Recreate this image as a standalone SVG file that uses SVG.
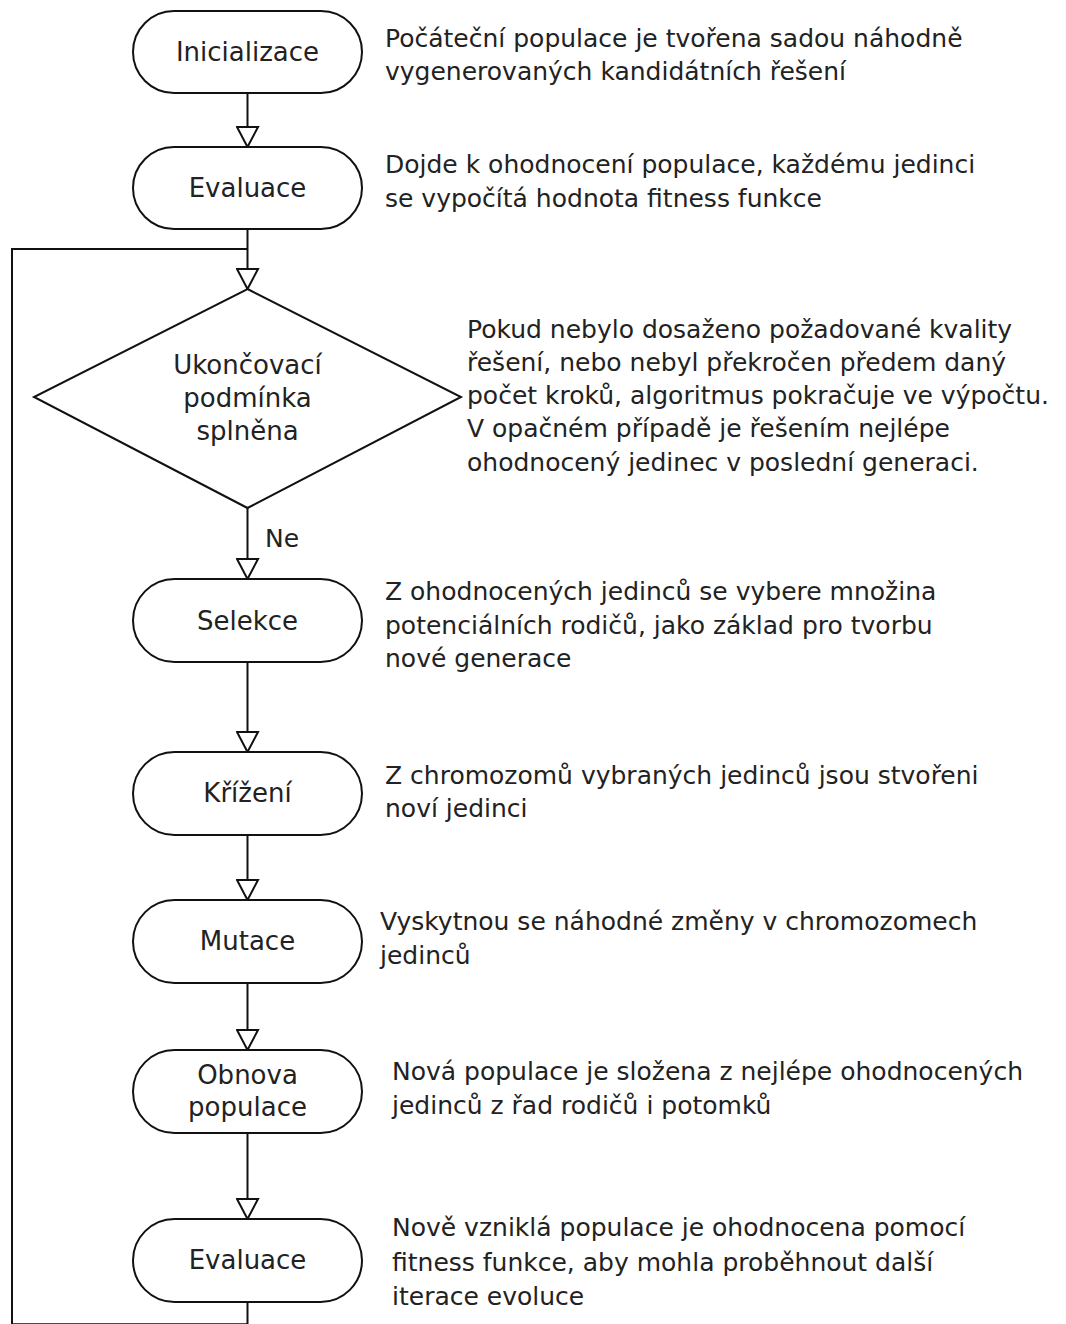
<svg xmlns="http://www.w3.org/2000/svg" width="1066" height="1324" viewBox="0 0 1066 1324">
<style>
.n{fill:#fff;stroke:#111;stroke-width:2}
.c{fill:none;stroke:#111;stroke-width:2}
.t{font-family:"DejaVu Sans",sans-serif;font-size:25px;fill:#222}
.m{text-anchor:middle;font-size:26px}
</style>
<defs>
<marker id="arr" viewBox="-2 -12 24 24" refX="20" refY="0" markerWidth="24" markerHeight="24" markerUnits="userSpaceOnUse" orient="auto">
<path d="M0,-10.5 L20,0 L0,10.5 Z" fill="#fff" stroke="#111" stroke-width="2"/>
</marker>
</defs>
<rect width="1066" height="1324" fill="#fff"/>
<g id="connectors">
<line class="c" x1="247.5" y1="93" x2="247.5" y2="147" marker-end="url(#arr)"/>
<line class="c" x1="247.5" y1="229" x2="247.5" y2="289" marker-end="url(#arr)"/>
<path class="c" d="M247.5,1302 V1324.3 H12 V249 H247.5"/>
<line class="c" x1="247.5" y1="508" x2="247.5" y2="579" marker-end="url(#arr)"/>
<line class="c" x1="247.5" y1="662" x2="247.5" y2="752" marker-end="url(#arr)"/>
<line class="c" x1="247.5" y1="835" x2="247.5" y2="900" marker-end="url(#arr)"/>
<line class="c" x1="247.5" y1="983" x2="247.5" y2="1050" marker-end="url(#arr)"/>
<line class="c" x1="247.5" y1="1133" x2="247.5" y2="1219" marker-end="url(#arr)"/>
<text class="t" x="265" y="547">Ne</text>
</g>
<g id="inicializace">
<rect class="n" x="133" y="11" width="229" height="82" rx="41"/>
<text class="t m" x="247.5" y="61">Inicializace</text>
<text class="t" x="385" y="47">Počáteční populace je tvořena sadou náhodně</text>
<text class="t" x="385" y="80">vygenerovaných kandidátních řešení</text>
</g>
<g id="evaluace1">
<rect class="n" x="133" y="147" width="229" height="82" rx="41"/>
<text class="t m" x="247.5" y="197">Evaluace</text>
<text class="t" x="385" y="173">Dojde k ohodnocení populace, každému jedinci</text>
<text class="t" x="385" y="207">se vypočítá hodnota fitness funkce</text>
</g>
<g id="podminka">
<polygon class="n" points="247.5,289 461,397 247.5,508 34,397"/>
<text class="t m" x="247.5" y="374">Ukončovací</text>
<text class="t m" x="247.5" y="407">podmínka</text>
<text class="t m" x="247.5" y="440">splněna</text>
<text class="t" x="467" y="338">Pokud nebylo dosaženo požadované kvality</text>
<text class="t" x="467" y="371">řešení, nebo nebyl překročen předem daný</text>
<text class="t" x="467" y="404">počet kroků, algoritmus pokračuje ve výpočtu.</text>
<text class="t" x="467" y="437">V opačném případě je řešením nejlépe</text>
<text class="t" x="467" y="471">ohodnocený jedinec v poslední generaci.</text>
</g>
<g id="selekce">
<rect class="n" x="133" y="579" width="229" height="83" rx="41.5"/>
<text class="t m" x="247.5" y="630">Selekce</text>
<text class="t" x="385" y="600">Z ohodnocených jedinců se vybere množina</text>
<text class="t" x="385" y="634">potenciálních rodičů, jako základ pro tvorbu</text>
<text class="t" x="385" y="667">nové generace</text>
</g>
<g id="krizeni">
<rect class="n" x="133" y="752" width="229" height="83" rx="41.5"/>
<text class="t m" x="247.5" y="802">Křížení</text>
<text class="t" x="385" y="784">Z chromozomů vybraných jedinců jsou stvořeni</text>
<text class="t" x="385" y="817">noví jedinci</text>
</g>
<g id="mutace">
<rect class="n" x="133" y="900" width="229" height="83" rx="41.5"/>
<text class="t m" x="247.5" y="950">Mutace</text>
<text class="t" x="380" y="930">Vyskytnou se náhodné změny v chromozomech</text>
<text class="t" x="380" y="964">jedinců</text>
</g>
<g id="obnova">
<rect class="n" x="133" y="1050" width="229" height="83" rx="41.5"/>
<text class="t m" x="247.5" y="1084">Obnova</text>
<text class="t m" x="247.5" y="1116">populace</text>
<text class="t" x="392" y="1080">Nová populace je složena z nejlépe ohodnocených</text>
<text class="t" x="392" y="1114">jedinců z řad rodičů i potomků</text>
</g>
<g id="evaluace2">
<rect class="n" x="133" y="1219" width="229" height="83" rx="41.5"/>
<text class="t m" x="247.5" y="1269">Evaluace</text>
<text class="t" x="392" y="1236">Nově vzniklá populace je ohodnocena pomocí</text>
<text class="t" x="392" y="1271">fitness funkce, aby mohla proběhnout další</text>
<text class="t" x="392" y="1305">iterace evoluce</text>
</g>
</svg>
